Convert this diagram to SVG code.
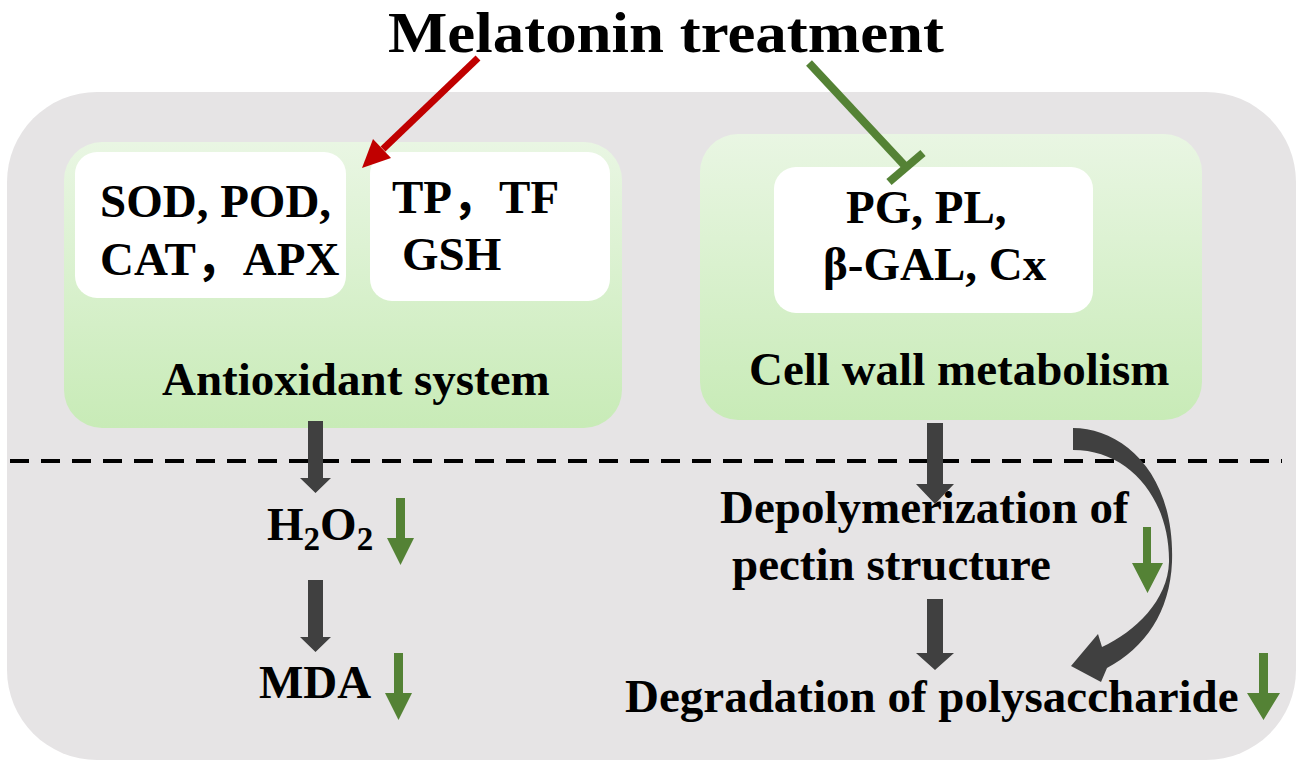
<svg xmlns="http://www.w3.org/2000/svg" width="1299" height="763" viewBox="0 0 1299 763">
<defs>
<linearGradient id="gg" x1="0" y1="0" x2="0" y2="1">
<stop offset="0" stop-color="#e9f6e3"/>
<stop offset="1" stop-color="#c8ebb7"/>
</linearGradient>
<style>
text{font-family:"Liberation Serif","Noto Sans CJK SC",serif;font-weight:bold;fill:#000;font-size:47px}
.green{fill:url(#gg)}
.white{fill:#fff}
.dark{fill:#404040}
.garr{fill:#548235}
</style>
</defs>
<rect width="1299" height="763" fill="#fff"/>
<g id="background"><rect x="7" y="92" width="1289" height="668" rx="90" fill="#e6e4e5"/></g>
<g id="title"><text x="388" y="52" style="font-size:58px" textLength="556" lengthAdjust="spacingAndGlyphs">Melatonin treatment</text></g>
<g id="antioxidant">
<rect class="green" x="64" y="142" width="558" height="286" rx="38"/>
<rect class="white" x="75" y="152" width="271" height="146" rx="22"/>
<rect class="white" x="370" y="152" width="240" height="149" rx="22"/>
<text x="100" y="217">SOD, POD,</text>
<text x="100" y="275">CAT，APX</text>
<text x="392" y="213">TP，TF</text>
<text x="402" y="270">GSH</text>
<text x="162" y="395">Antioxidant system</text>
</g>
<g id="cellwall">
<rect class="green" x="700" y="134" width="502" height="286" rx="38"/>
<rect class="white" x="774" y="167" width="319" height="146" rx="22"/>
<text x="846" y="223">PG, PL,</text>
<text x="823" y="280">β-GAL, Cx</text>
<text x="749" y="385">Cell wall metabolism</text>
</g>
<g id="h2o2"><text x="267" y="540">H<tspan dy="10" style="font-size:33px">2</tspan><tspan dy="-10">O</tspan><tspan dy="10" style="font-size:33px">2</tspan></text></g>
<g id="mda"><text x="259" y="698">MDA</text></g>
<g id="pectin"><text x="720" y="523">Depolymerization of</text><text x="732" y="580">pectin structure</text></g>
<g id="poly"><text x="625" y="712">Degradation of polysaccharide</text></g>
<g id="connectors">
<line x1="10" y1="461" x2="1282" y2="461" stroke="#000" stroke-width="4" stroke-dasharray="19 12"/>
<line x1="478" y1="58" x2="383" y2="149" stroke="#c00000" stroke-width="7"/>
<polygon points="362,168 391,158 373,139" fill="#c00000"/>
<line x1="809" y1="63" x2="906" y2="167" stroke="#548235" stroke-width="8"/>
<line x1="889" y1="182" x2="923" y2="153" stroke="#548235" stroke-width="8"/>
<polygon class="dark" points="308,421 323,421 323,478 331,478 315.5,493 300,478 308,478"/>
<polygon class="dark" points="308,580 323,580 323,637 331,637 315.5,652 300,637 308,637"/>
<polygon class="dark" points="927,423 943,423 943,484 954,484 935,504 916,484 927,484"/>
<polygon class="dark" points="927,599 943,599 943,653 954,653 935,670 916,653 927,653"/>
<path class="dark" d="M1073,428 C1120,428 1175,470 1172,562 C1170,612 1145,648 1107,668 L1101,682 L1071,666 L1098,634 L1102,647 C1135,632 1168,600 1169,562 C1170,500 1130,450 1073,450 Z"/>
<polygon class="garr" points="396,498 405,498 405,538 414,538 400.5,565 387,538 396,538"/>
<polygon class="garr" points="394,653 403,653 403,693 412,693 398.5,720 385,693 394,693"/>
<polygon class="garr" points="1143,527 1151,527 1151,563 1163,563 1147.5,593 1132,563 1143,563"/>
<polygon class="garr" points="1259,653 1268,653 1268,693 1280,693 1263.5,720 1247,693 1259,693"/>
</g>
</svg>
